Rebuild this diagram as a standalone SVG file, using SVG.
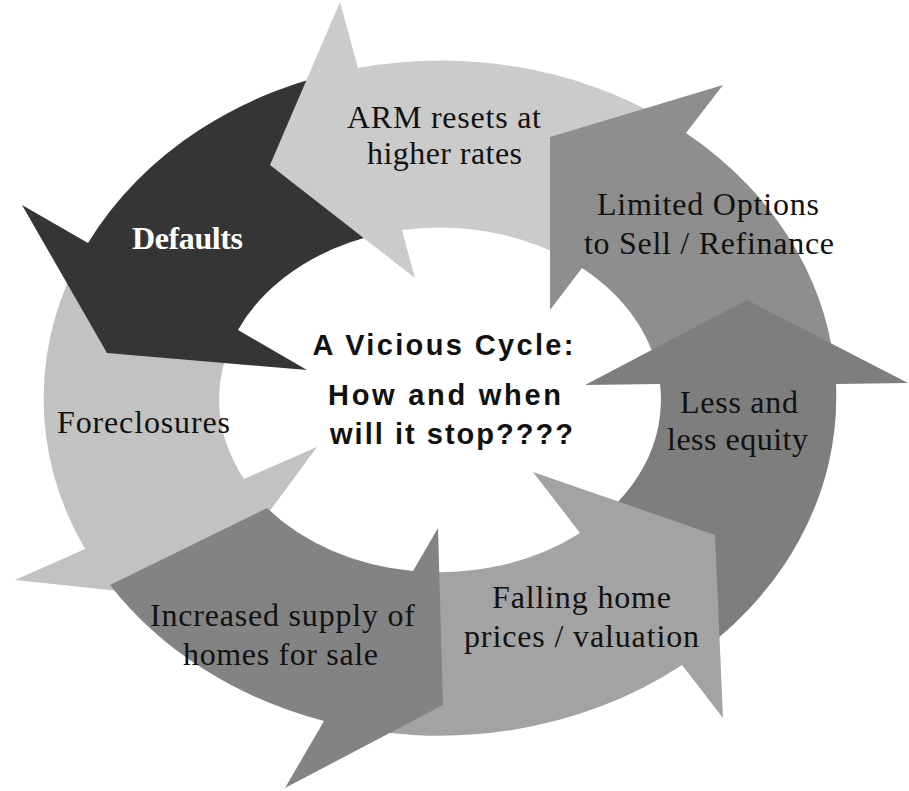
<svg xmlns="http://www.w3.org/2000/svg" width="909" height="791" viewBox="0 0 909 791">
<style>
.lbl{font-family:"Liberation Serif","Times New Roman",serif;font-size:32px;fill:#111;text-anchor:middle}
.dft{font-family:"Liberation Serif","Times New Roman",serif;font-size:32px;font-weight:bold;fill:#fff;text-anchor:middle}
.ctr{font-family:"Liberation Sans",Arial,sans-serif;font-size:29px;font-weight:bold;fill:#111;text-anchor:middle}
.arw{stroke:none}
</style>
<rect width="909" height="791" fill="#fff"/>
<g id="connectors"></g>
<g id="foreclosures">
<path class="arw" fill="#c2c2c2" d="M85,549 A396,338 0 0 1 88,243 L238,330 A221,172 0 0 0 244,479 L317,447 L204,600 L15,580 Z"/>
<text class="lbl" x="143.5" y="433" textLength="173">Foreclosures</text>
</g>
<g id="defaults">
<path class="arw" fill="#353535" d="M88,243 A396,338 0 0 1 358,68 L402,230 A221,172 0 0 0 238,330 L307,370 L107,353 L22,205 Z"/>
<text class="dft" x="187.5" y="249" textLength="111">Defaults</text>
</g>
<g id="arm-resets">
<path class="arw" fill="#cbcbcb" d="M358,68 A396,338 0 0 1 686,133 L582,268 A221,172 0 0 0 402,230 L415,278 L270,165 L340,2 Z"/>
<text class="lbl" x="444" y="128" textLength="194">ARM resets at</text>
<text class="lbl" x="444.5" y="164" textLength="155">higher rates</text>
</g>
<g id="limited-options">
<path class="arw" fill="#8e8e8e" d="M686,133 A396,338 0 0 1 836,384 L660,384 A221,172 0 0 0 582,268 L550,310 L550,137 L723,85 Z"/>
<text class="lbl" x="708" y="215" textLength="222">Limited Options</text>
<text class="lbl" x="709" y="254" textLength="250">to Sell / Refinance</text>
</g>
<g id="less-equity">
<path class="arw" fill="#7e7e7e" d="M836,384 A396,338 0 0 1 682,665 L580,533 A221,172 0 0 0 660,384 L585,385 L747,300 L908,383 Z"/>
<text class="lbl" x="739" y="413" textLength="118">Less and</text>
<text class="lbl" x="737.5" y="450" textLength="141">less equity</text>
</g>
<g id="falling-prices">
<path class="arw" fill="#a3a3a3" d="M682,665 A396,338 0 0 1 324,721 L413,571 A221,172 0 0 0 580,533 L533,472 L715,535 L723,718 Z"/>
<text class="lbl" x="581.5" y="608" textLength="179">Falling home</text>
<text class="lbl" x="581.5" y="647" textLength="235">prices / valuation</text>
</g>
<g id="increased-supply">
<path class="arw" fill="#838383" d="M324,721 A396,338 0 0 1 110,585 L267,508 A221,172 0 0 0 413,571 L438,528 L443,705 L285,788 Z"/>
<text class="lbl" x="282.5" y="626" textLength="265">Increased supply of</text>
<text class="lbl" x="280.5" y="665" textLength="195">homes for sale</text>
</g>
<g id="center-title">
<text class="ctr" x="443" y="355" textLength="261">A Vicious Cycle:</text>
<text class="ctr" x="444.5" y="405" textLength="233">How and when</text>
<text class="ctr" x="451.5" y="444" textLength="243">will it stop????</text>
</g>
</svg>
